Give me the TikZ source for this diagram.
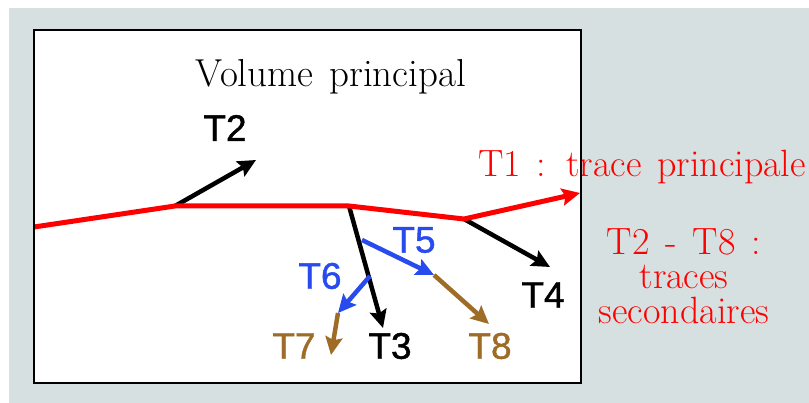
\documentclass[tikz,border=0pt]{standalone}
\usepackage{fontspec}
\newfontfamily\tracefont[FakeBold=1.2]{Liberation Sans}
\usetikzlibrary{arrows.meta}
\definecolor{fondgris}{RGB}{214,224,224}
\definecolor{traceblue}{RGB}{40,75,240}
\definecolor{tracebrown}{RGB}{158,108,38}
\newcommand{\legendfont}{\fontsize{38}{34.5}\selectfont\spaceskip=0.42em\relax}

\begin{document}
\begin{tikzpicture}[x=1pt, y=-1pt,
    trackarrow/.style={line width=4.5pt, line join=round, -{Stealth[length=18pt,width=17pt,inset=3pt]}},
    tname/.style={font=\tracefont\fontsize{37}{40}\selectfont, inner sep=0pt},
    legend/.style={text=red, font=\legendfont, inner sep=0pt}]
    \useasboundingbox (0,0) rectangle (809,403);
    \fill[fondgris] (9,8) rectangle (809,403);
    \fill[white] (34,30) rectangle (581,383);

    \node[legend, text=black, anchor=base, font=\legendfont\fontsize{39}{34}\selectfont] (volume) at (331,87) {Volume principal};
    \node[legend, anchor=base west] (t1text) at (478,177) {T1 : trace principale};
    \node[legend, anchor=north, align=center] (t2t8text) at (684,228) {T2 - T8 :\\traces\\secondaires};

    \coordinate (a) at (34,227);
    \coordinate (b) at (175,206);
    \coordinate (c) at (349,206);
    \coordinate (d) at (464,219);
    \coordinate (e) at (580,193);
    \coordinate (t5start) at (362,240);
    \coordinate (t6start) at (370,276);

    \node[tname] (t2) at (225,128) {T2};
    \node[tname] (t3) at (390,346) {T3};
    \node[tname] (t4) at (543,295) {T4};
    \node[tname, text=traceblue] (t5) at (414,240) {T5};
    \node[tname, text=traceblue] (t6) at (320,276) {T6};
    \node[tname, text=tracebrown] (t7) at (294,346) {T7};
    \node[tname, text=tracebrown] (t8) at (490,346) {T8};

    \coordinate (t2end) at (256,160);
    \coordinate (t3end) at (383,328);
    \coordinate (t4end) at (550,267);
    \coordinate (t5end) at (434,275);
    \coordinate (t6end) at (338,313);
    \coordinate (t7end) at (331,355);
    \coordinate (t8end) at (489,324);

    \draw[trackarrow] (b) -- (t2end);
    \draw[trackarrow] (c) -- (t3end);
    \draw[trackarrow] (d) -- (t4end);
    \draw[trackarrow, traceblue] (t5start) -- (t5end);
    \draw[trackarrow, traceblue] (t6start) -- (t6end);
    \draw[trackarrow, tracebrown] (t6end) -- (t7end);
    \draw[trackarrow, tracebrown] (t5end) -- (t8end);
    \draw[trackarrow, red, line width=5pt] (a) -- (b) -- (c) -- (d) -- (e);

    \draw[line width=2.5pt] (34,30) rectangle (581,383);
  \end{tikzpicture}
\end{document}
